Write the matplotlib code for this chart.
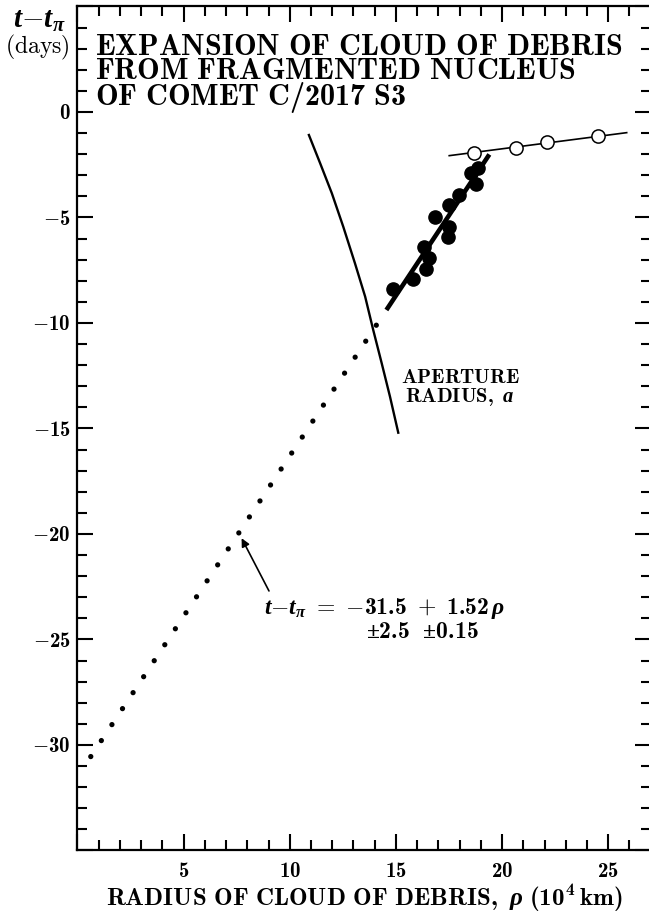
import numpy as np
import matplotlib
matplotlib.use("Agg")
import matplotlib.pyplot as plt
from matplotlib.ticker import MultipleLocator, FuncFormatter

plt.rcParams['font.family'] = ['DejaVu Serif']
plt.rcParams['mathtext.fontset'] = 'custom'
plt.rcParams['mathtext.rm'] = 'cmr10'
plt.rcParams['mathtext.it'] = 'cmmi10'
plt.rcParams['mathtext.bf'] = 'cmb10'
plt.rcParams['mathtext.sf'] = 'Liberation Serif:bold'
plt.rcParams['mathtext.tt'] = 'cmtt10'
plt.rcParams['mathtext.cal'] = 'cmsy10'
plt.rcParams['mathtext.fallback'] = 'cm'
HAS_BFIT = 'mathtext.bfit' in plt.rcParams
if HAS_BFIT:
    plt.rcParams['mathtext.bfit'] = 'Liberation Serif:italic:bold'

def bi(s):
    return (r'\mathbfit{' + s + '}') if HAS_BFIT else s

# ---- data ----
filled_rho = [14.85, 15.79, 16.32, 16.54, 16.42, 16.85, 17.48, 17.51, 17.44, 17.96, 18.52, 18.88, 18.77]
filled_t   = [-8.40, -7.93, -6.41, -6.92, -7.44, -4.96, -4.42, -5.43, -5.94, -3.92, -2.91, -2.67, -3.43]

open_rho = [18.68, 20.64, 22.10, 24.53]
open_t   = [-1.93, -1.69, -1.41, -1.14]

aperture_rho = [10.90, 11.43, 11.98, 12.52, 13.07, 13.55, 13.93, 14.33, 14.72, 15.11]
aperture_t   = [-1.09, -2.43, -3.85, -5.44, -7.17, -8.75, -10.33, -11.91, -13.49, -15.20]

# linear fit t - t_pi = a + b*rho
fit_a, fit_b = -31.5, 1.52
fit_solid_range = [14.55, 19.40]
fit_dotted_range = [0.625, 14.125]

# line through open circles
open_a, open_b = -4.353, 0.1304
open_range = [17.51, 25.87]

title_lines = ["EXPANSION OF CLOUD OF DEBRIS",
               "FROM FRAGMENTED NUCLEUS",
               "OF COMET C/2017 S3"]

xlim = (0, 27)
ylim = (-35, 5)

# ---- figure ----
fig = plt.figure(figsize=(6.49, 9.14), dpi=100)
ax = fig.add_axes([0.1194, 0.0695, 0.8832, 0.9234])
ax.set_xlim(*xlim)
ax.set_ylim(*ylim)

def line(a, b, rng):
    xs = np.array(rng)
    return xs, a + b * xs

# aperture radius curve
ax.plot(aperture_rho, aperture_t, color='black', lw=1.7, solid_joinstyle='round')

# dotted extrapolation
xd, yd = line(fit_a, fit_b, fit_dotted_range)
ax.plot(xd, yd, color='black', lw=3.8, linestyle=(0, (0.01, 3.62)), dash_capstyle='round')

# thick fit line
xs, ys = line(fit_a, fit_b, fit_solid_range)
ax.plot(xs, ys, color='black', lw=3.3, solid_capstyle='butt', zorder=3)

# line through open circles
xo, yo = line(open_a, open_b, open_range)
ax.plot(xo, yo, color='black', lw=1.2, zorder=3)

ax.plot(filled_rho, filled_t, 'o', color='black', ms=9.5, zorder=4)
ax.plot(open_rho, open_t, 'o', mfc='white', mec='black', mew=1.1, ms=9.5, zorder=4)

# texts
def bf(s):
    return r'$\mathbf{' + s.replace(' ', r'\ ') + '}$'

ax.text(0.82, 3.74, '\n'.join(bf(s) for s in title_lines), fontsize=21.7,
        va='top', ha='left', linespacing=0.81)

ax.text(18.02, -12.6, bf('APERTURE'), fontsize=14.8, ha='center', va='center')
ax.text(18.02, -13.5, r'$\mathbf{RADIUS,}\ ' + bi('a') + '$', fontsize=14.8, ha='center', va='center')

ax.text(8.78, -23.5, r'$' + bi('t') + '{-}' + bi('t_\\pi') +
        r'\ =\ {-}\mathbf{31.5}\ +\ \mathbf{1.52}\,' + bi(r'\rho') + '$',
        fontsize=17, ha='left', va='center')
ax.text(13.59, -24.63, r'$\mathsf{\pm}\mathbf{2.5}\ \ \mathsf{\pm}\mathbf{0.15}$', fontsize=17,
        ha='left', va='center')

ax.annotate('', xy=(7.73, -20.2), xytext=(9.02, -22.7),
            arrowprops=dict(arrowstyle='-|>', color='black', lw=1.2,
                            mutation_scale=12, shrinkA=0, shrinkB=0))

fig.text(39 / 649, 1 - 20 / 914, r'$' + bi('t') + '{-}' + bi('t_\\pi') + '$',
         fontsize=21, ha='center', va='center')
fig.text(37 / 649, 1 - 47 / 914, r'$\mathrm{(days)}$', fontsize=17, ha='center', va='center')

ax.set_xlabel(r'$\mathbf{RADIUS\ OF\ CLOUD\ OF\ DEBRIS,}\ ' + bi(r'\rho') +
              r'\ \mathbf{(10^4\,km)}$', fontsize=18, labelpad=1)

# ticks
ax.xaxis.set_major_locator(MultipleLocator(5))
ax.xaxis.set_minor_locator(MultipleLocator(1))
ax.yaxis.set_major_locator(MultipleLocator(5))
ax.yaxis.set_minor_locator(MultipleLocator(1))

def num_label(v):
    n = int(round(v))
    if n < 0:
        return r'$-\mathbf{%d}$' % (-n)
    return r'$\mathbf{%d}$' % n

def xfmt(v, p):
    if v <= 0 or v > 26:
        return ''
    return num_label(v)

def yfmt(v, p):
    if v < -30 or v > 0:
        return ''
    return num_label(v)

ax.xaxis.set_major_formatter(FuncFormatter(xfmt))
ax.yaxis.set_major_formatter(FuncFormatter(yfmt))
ax.tick_params(which='both', direction='in', top=True, right=True, width=1.5)
ax.tick_params(which='major', length=11.5, labelsize=15)
ax.tick_params(which='minor', length=7)
ax.tick_params(axis='x', pad=8)
ax.tick_params(axis='y', pad=5)
for sp in ax.spines.values():
    sp.set_linewidth(1.6)

fig.savefig('out.png', dpi=100)
